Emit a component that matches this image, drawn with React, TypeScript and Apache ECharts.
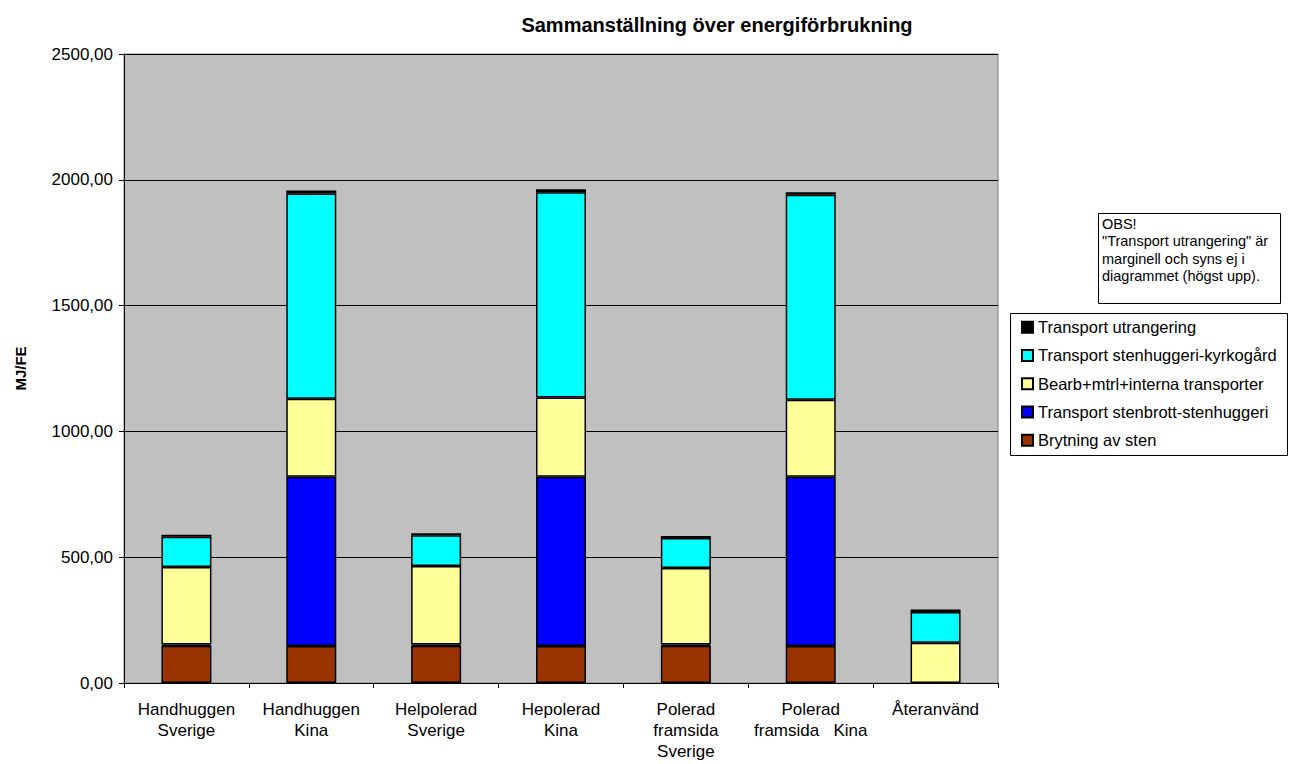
import React, { useEffect, useRef } from "react";
import * as echarts from "echarts";

const categories = [
  "Handhuggen\nSverige",
  "Handhuggen\nKina",
  "Helpolerad\nSverige",
  "Hepolerad\nKina",
  "Polerad\nframsida\nSverige",
  "Polerad\nframsida   Kina",
  "Återanvänd",
];
const brytning = [148, 147, 148, 147, 148, 147, 0];
const transportStenbrott = [5, 673, 5, 673, 5, 673, 0];
const bearb = [308, 310, 312, 315, 304, 306, 160];
const transportKyrkogard = [120, 816, 122, 816, 119, 815, 122];
const transportUtrangering = [8, 11, 8, 11, 8, 10, 10];
const seriesNames = [
  "Brytning av sten",
  "Transport stenbrott-stenhuggeri",
  "Bearb+mtrl+interna transporter",
  "Transport stenhuggeri-kyrkogård",
  "Transport utrangering",
];
const seriesColors = ["#993300", "#0000FF", "#FFFF99", "#00FFFF", "#000000"];
const yTicks = { min: 0, max: 2500, interval: 500 };

export default function App() {
  const ref = useRef<HTMLDivElement>(null);
  useEffect(() => {
    if (!ref.current) return;
    const chart = echarts.init(ref.current, undefined, { renderer: "svg" });
    const values = [brytning, transportStenbrott, bearb, transportKyrkogard, transportUtrangering];
    const font = "Liberation Sans, Arial, sans-serif";
    chart.setOption({
      animation: false,
      textStyle: { fontFamily: font },
      title: {
        text: "Sammanställning över energiförbrukning",
        left: 712,
        textAlign: "center",
        top: 10,
        textStyle: { fontSize: 20, fontWeight: "bold", color: "#000", fontFamily: font },
      },
      grid: {
        left: 124,
        right: 298,
        top: 54,
        bottom: 81,
        show: true,
        backgroundColor: "#C0C0C0",
        borderColor: "#808080",
        borderWidth: 1,
      },
      legend: {
        orient: "vertical",
        left: 1016,
        top: 313,
        data: seriesNames.slice().reverse(),
        icon: "rect",
        itemWidth: 11,
        itemHeight: 11,
        itemGap: 10,
        selectedMode: false,
        textStyle: { fontSize: 16.5, color: "#000", lineHeight: 18.3, fontFamily: font },
      },
      xAxis: {
        type: "category",
        data: categories,
        axisLine: { show: true, lineStyle: { color: "#000", width: 1 } },
        axisTick: { show: true, alignWithLabel: false, length: 5, lineStyle: { color: "#000" } },
        axisLabel: { fontSize: 17, color: "#000", lineHeight: 21, margin: 16, interval: 0 },
      },
      yAxis: {
        type: "value",
        min: yTicks.min,
        max: yTicks.max,
        interval: yTicks.interval,
        name: "MJ/FE",
        nameLocation: "middle",
        nameGap: 96,
        nameRotate: 90,
        nameTextStyle: { fontSize: 15, fontWeight: "bold", color: "#000" },
        axisLine: { show: true, lineStyle: { color: "#000" } },
        axisTick: { show: true, length: 5, lineStyle: { color: "#000" } },
        axisLabel: {
          fontSize: 17,
          color: "#000",
          margin: 11,
          formatter: (v: number) => v.toFixed(2).replace(".", ","),
        },
        splitLine: { show: true, lineStyle: { color: "#000", width: 1 } },
      },
      series: seriesNames.map((name, i) => ({
        name,
        type: "bar",
        stack: "total",
        barWidth: 50,
        data: values[i].map((v) => (v === 0 ? "-" : v)),
        itemStyle: { color: seriesColors[i], borderColor: "#000", borderWidth: 1.5 },
      })),
      graphic: [
        {
          type: "rect",
          shape: { x: 1010.5, y: 313.5, width: 277, height: 142 },
          style: { fill: "#fff", stroke: "#000", lineWidth: 1 },
          z: -1,
        },
        {
          type: "rect",
          shape: { x: 1098.5, y: 213.5, width: 182, height: 90 },
          style: { fill: "#fff", stroke: "#000", lineWidth: 1 },
        },
        {
          type: "text",
          x: 1102,
          y: 215,
          style: {
            text: 'OBS!\n"Transport utrangering" är\nmarginell och syns ej i\ndiagrammet (högst upp).',
            fontSize: 14.5,
            lineHeight: 17.5,
            fill: "#000",
            fontFamily: font,
          },
        },
      ],
    });
    return () => chart.dispose();
  }, []);
  return <div ref={ref} style={{ width: 1296, height: 764, position: "absolute", left: 0, top: 0, background: "#fff" }} />;
}
